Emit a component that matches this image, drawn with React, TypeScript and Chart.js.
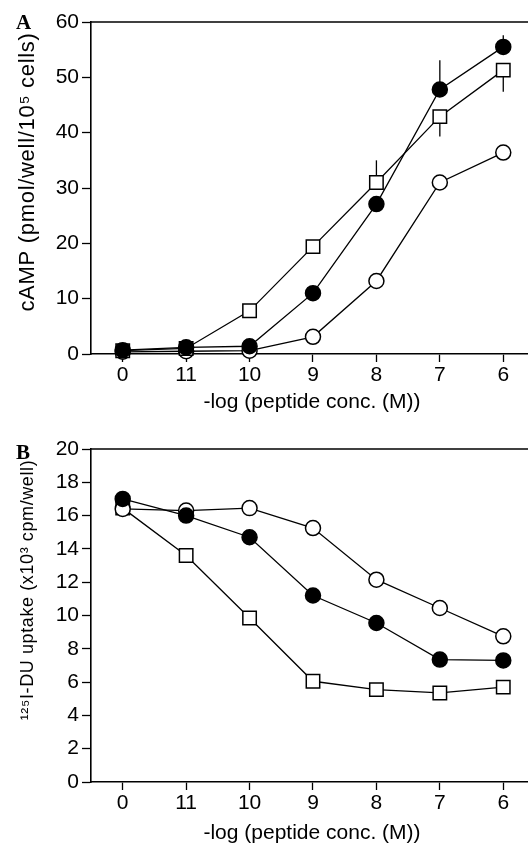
import React, { useEffect, useRef } from "react";
import { Chart, registerables } from "chart.js";

Chart.register(...registerables);

const xLabels = ["0", "11", "10", "9", "8", "7", "6"];
const xTitle = "-log (peptide conc. (M))";

// Panel A: cAMP
const aYTitle = "cAMP (pmol/well/10\u2075 cells)";
const aYTicks = [0, 10, 20, 30, 40, 50, 60];
const aSquare = [0.6, 1.0, 7.8, 19.4, 31.0, 42.9, 51.3];
const aFilled = [0.7, 1.2, 1.4, 11.0, 27.1, 47.8, 55.5];
const aOpen = [0.4, 0.5, 0.6, 3.1, 13.2, 31.0, 36.4];
const aSquareErrUp = [0, 0, 0, 0, 4.0, 0, 0];
const aSquareErrDown = [0, 0, 0, 0, 0, 3.6, 3.9];
const aFilledErrUp = [0, 0, 0, 0, 0, 5.3, 2.1];

// Panel B: 125I-DU uptake
const bYTitle = "\u00b9\u00b2\u2075I-DU uptake (x10\u00b3 cpm/well)";
const bYTicks = [0, 2, 4, 6, 8, 10, 12, 14, 16, 18, 20];
const bOpen = [16.4, 16.3, 16.45, 15.25, 12.15, 10.45, 8.75];
const bFilled = [17.0, 16.0, 14.7, 11.2, 9.55, 7.35, 7.3];
const bSquare = [16.45, 13.6, 9.85, 6.05, 5.55, 5.35, 5.7];

const FONT = "'Liberation Sans', Arial, Helvetica, sans-serif";

const framePlugin = {
  id: "frameTop",
  afterDraw(chart: any) {
    const { ctx, chartArea } = chart;
    ctx.save();
    ctx.strokeStyle = "#000";
    ctx.lineWidth = 1.6;
    ctx.beginPath();
    ctx.moveTo(chartArea.left, chartArea.top);
    ctx.lineTo(chartArea.right, chartArea.top);
    ctx.stroke();
    ctx.restore();
  },
};

const titlePlugin = {
  id: "axisTitles",
  afterDraw(chart: any) {
    const o = chart.options.plugins.axisTitles;
    if (!o) return;
    const { ctx } = chart;
    ctx.save();
    ctx.fillStyle = "#000";
    ctx.textAlign = "center";
    ctx.textBaseline = "middle";
    ctx.font = `${o.xSize}px ${FONT}`;
    (ctx as any).letterSpacing = "0px";
    ctx.fillText(o.xText, o.xTitleX, o.xTitleY);
    ctx.font = `${o.ySize}px ${FONT}`;
    (ctx as any).letterSpacing = `${o.ySpacing}px`;
    ctx.translate(o.yTitleX, o.yTitleY);
    ctx.rotate(-Math.PI / 2);
    ctx.fillText(o.yText, 0, 0);
    ctx.restore();
  },
};

const errPlugin = {
  id: "errBars",
  beforeDatasetsDraw(chart: any) {
    const { ctx } = chart;
    const xs = chart.scales.x;
    const ys = chart.scales.y;
    ctx.save();
    ctx.strokeStyle = "#000";
    ctx.lineWidth = 1.3;
    chart.data.datasets.forEach((ds: any) => {
      const up = ds.errUp || [];
      const down = ds.errDown || [];
      ds.data.forEach((p: any, i: number) => {
        const px = xs.getPixelForValue(p.x);
        if (up[i]) {
          ctx.beginPath();
          ctx.moveTo(px, ys.getPixelForValue(p.y));
          ctx.lineTo(px, ys.getPixelForValue(p.y + up[i]));
          ctx.stroke();
        }
        if (down[i]) {
          ctx.beginPath();
          ctx.moveTo(px, ys.getPixelForValue(p.y));
          ctx.lineTo(px, ys.getPixelForValue(p.y - down[i]));
          ctx.stroke();
        }
      });
    });
    ctx.restore();
  },
};

function toPts(vals: number[]) {
  return vals.map((v, i) => ({ x: i, y: v }));
}

function ds(vals: number[], kind: string, extra: any = {}) {
  const isRect = kind === "square";
  return {
    data: toPts(vals),
    borderColor: "#000",
    borderWidth: 1.3,
    pointStyle: isRect ? "rect" : "circle",
    pointRadius: isRect ? 9.5 : 7.5,
    pointBorderWidth: 1.5,
    pointBorderColor: "#000",
    pointBackgroundColor: kind === "filled" ? "#000" : "#fff",
    tension: 0,
    clip: false,
    ...extra,
  };
}

function makeConfig(
  datasets: any[],
  yTicks: number[],
  titles: any,
  padTop: number,
  xHeight: number
): any {
  return {
    type: "line",
    data: { datasets },
    plugins: [framePlugin, errPlugin, titlePlugin],
    options: {
      animation: false,
      responsive: false,
      maintainAspectRatio: false,
      layout: { autoPadding: false, padding: { top: padTop, left: 0, right: 0, bottom: 0 } },
      plugins: {
        legend: { display: false },
        tooltip: { enabled: false },
        axisTitles: titles,
      },
      scales: {
        x: {
          type: "linear",
          min: -0.5,
          max: 6.39,
          afterBuildTicks: (s: any) => {
            s.ticks = xLabels.map((_, i) => ({ value: i }));
          },
          afterFit: (s: any) => {
            s.height = xHeight;
            s.paddingLeft = 0;
            s.paddingRight = 0;
          },
          grid: {
            drawOnChartArea: false,
            drawTicks: true,
            tickLength: 8,
            tickWidth: 1.3,
            tickColor: "#000",
          },
          border: { display: true, color: "#000", width: 1.6 },
          ticks: {
            autoSkip: false,
            maxRotation: 0,
            padding: 1,
            color: "#000",
            font: { family: FONT, size: 21 },
            callback: (v: any) => xLabels[v],
          },
          title: { display: false },
        },
        y: {
          type: "linear",
          min: yTicks[0],
          max: yTicks[yTicks.length - 1],
          afterBuildTicks: (s: any) => {
            s.ticks = yTicks.map((v) => ({ value: v }));
          },
          afterFit: (s: any) => {
            s.width = 91;
          },
          grid: {
            drawOnChartArea: false,
            drawTicks: true,
            tickLength: 9,
            tickWidth: 1.3,
            tickColor: "#000",
          },
          border: { display: true, color: "#000", width: 1.6 },
          ticks: {
            padding: 3,
            color: "#000",
            font: { family: FONT, size: 21 },
            callback: (v: any) => String(v),
          },
          title: { display: false },
        },
      },
    },
  };
}

function Panel(props: { config: any; top: number; height: number }) {
  const ref = useRef<HTMLCanvasElement | null>(null);
  useEffect(() => {
    if (!ref.current) return;
    const chart = new Chart(ref.current, props.config);
    return () => chart.destroy();
  }, []);
  return (
    <canvas
      ref={ref}
      width={528}
      height={props.height}
      style={{ position: "absolute", left: 0, top: props.top, width: 528, height: props.height }}
    />
  );
}

export default function App() {
  const configA = makeConfig(
    [
      ds(aFilled, "filled", { errUp: aFilledErrUp }),
      ds(aSquare, "square", { errUp: aSquareErrUp, errDown: aSquareErrDown }),
      ds(aOpen, "open"),
    ],
    aYTicks,
    {
      xText: xTitle,
      yText: aYTitle,
      xSize: 21,
      ySize: 22,
      ySpacing: 0.7,
      xTitleX: 312,
      xTitleY: 402,
      yTitleX: 28,
      yTitleY: 172,
    },
    22,
    68
  );
  const configB = makeConfig(
    [ds(bFilled, "filled"), ds(bOpen, "open"), ds(bSquare, "square")],
    bYTicks,
    {
      xText: xTitle,
      yText: bYTitle,
      xSize: 21,
      ySize: 18,
      ySpacing: 0.6,
      xTitleX: 312,
      xTitleY: 411,
      yTitleX: 28,
      yTitleY: 168,
    },
    27,
    62
  );
  const labelStyle: any = {
    position: "absolute",
    fontFamily: "'Liberation Serif', 'Times New Roman', serif",
    fontWeight: "bold",
    fontSize: 21,
    lineHeight: "21px",
    color: "#000",
  };
  return (
    <div
      style={{
        position: "fixed",
        left: 0,
        top: 0,
        width: 528,
        height: 844,
        background: "#fff",
        overflow: "hidden",
      }}
    >
      <Panel config={configA} top={0} height={422} />
      <Panel config={configB} top={422} height={422} />
      <div style={{ ...labelStyle, left: 16, top: 12 }}>A</div>
      <div style={{ ...labelStyle, left: 16, top: 442 }}>B</div>
    </div>
  );
}
